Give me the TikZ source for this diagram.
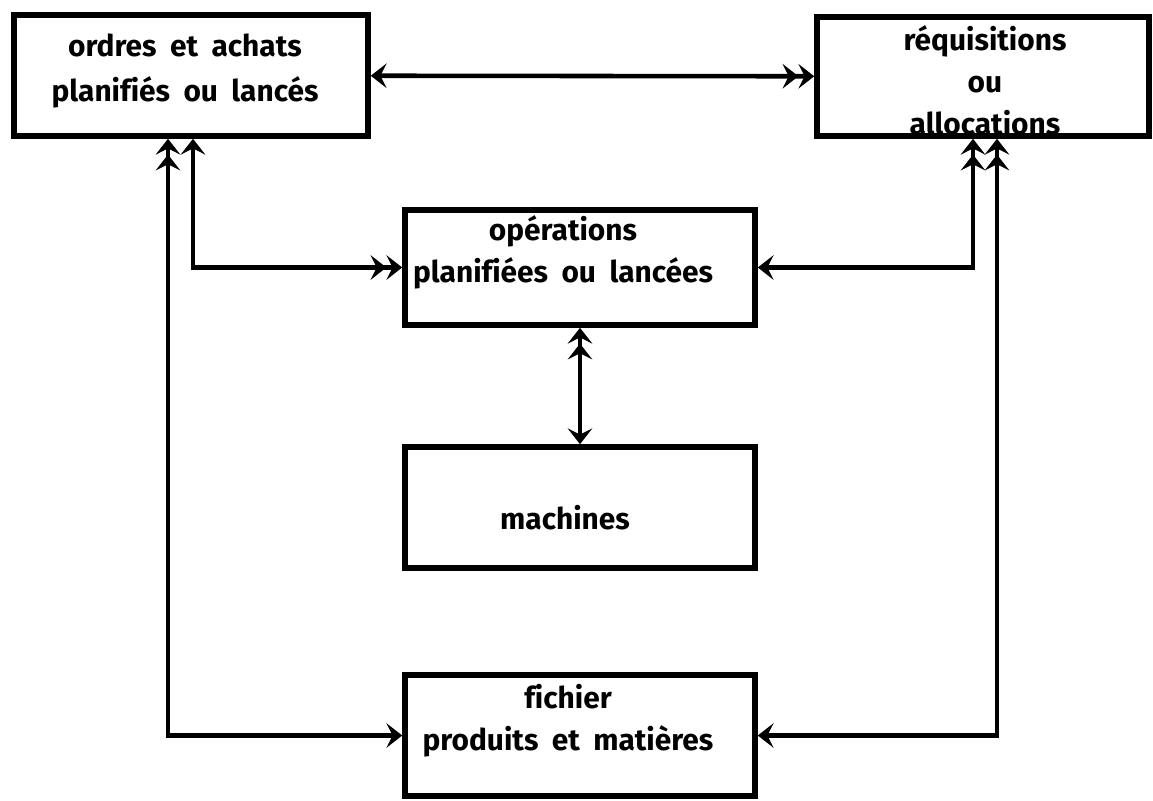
\documentclass[tikz,border=0pt]{standalone}
\usepackage{fontspec}
\setmainfont{Fira Sans}[Ligatures=NoCommon]
\usepackage{tikz}
\usetikzlibrary{positioning, calc, arrows.meta}
\newcommand{\largesp}{\spaceskip=0.45em plus 0.1em\relax}
\tikzset{bloc/.style={draw, line width=3.2pt, inner sep=0pt, minimum width=7.0cm, minimum height=2.42cm}}
\tikzset{txt/.style={align=center, inner sep=0pt, font=\bfseries\fontsize{17}{24}\selectfont\largesp}}
\tikzset{arr/.style={draw, line width=2.6pt, >={Stealth[length=9pt, width=14pt, inset=3.5pt]}}}

\begin{document}
\begin{tikzpicture}[x=0.02cm, y=-0.02cm]
                \useasboundingbox (0,0) rectangle (1153,801);
                %
                \node[bloc, minimum width=7.08cm] (ordres) at (191,75.5) {};
                \node[bloc, minimum width=6.64cm, minimum height=2.38cm] (requis) at (983,76.5) {};
                \node[bloc, minimum height=2.3cm] (oper) at (580,267.5) {};
                \node[bloc] (machines) at (580,507.5) {};
                \node[bloc] (fichier) at (580,735.5) {};
                %
                \node[txt] (ordres-t) at (185,71) {ordres et achats\\[2pt]planifiés ou lancés};
                \node[txt] (requis-t) at (985,80) {réquisitions\\ou\\allocations};
                \node[txt] (oper-t) at (563,252) {opérations\\planifiées ou lancées};
                \node[txt] (machines-t) at (565,518) {machines};
                \node[txt] (fichier-t) at (568,721) {fichier\\produits et matières};
                %
                \coordinate (l1) at (168,0);
                \coordinate (l2) at (193,0);
                \coordinate (r1) at (973,0);
                \coordinate (r2) at (997,0);
                %
                \draw[arr, <->>] (ordres) to (requis);
                \draw[arr, <<->] (ordres.south -| l1) |- (fichier.west);
                \draw[arr, <->>] (ordres.south -| l2) |- (oper.west);
                \draw[arr, <<->] (requis.south -| r1) |- (oper.east);
                \draw[arr, <<->] (requis.south -| r2) |- (fichier.east);
                \draw[arr, <<->] (oper) to (machines);
                %
\end{tikzpicture}
\end{document}
